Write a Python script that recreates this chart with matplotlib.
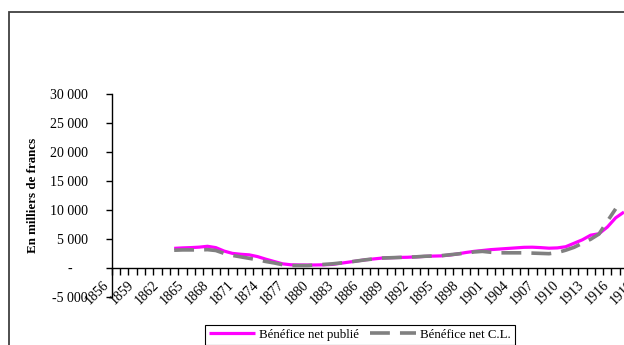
import matplotlib
matplotlib.use("Agg")
import matplotlib.pyplot as plt
from matplotlib.patches import Rectangle
from matplotlib.transforms import ScaledTranslation
import numpy as np

plt.rcParams['font.family'] = ['Liberation Serif', 'DejaVu Serif']

# ---- data ----
first_year = 1856
last_year = 1919
years_publie = list(range(1863, 1918))
benefice_publie = [3320, 3400, 3450, 3530, 3680, 3450, 2850, 2450, 2300, 2200,
                   1900, 1450, 1050, 650, 480, 450, 440, 450, 480, 550,
                   750, 950, 1150, 1350, 1500, 1650, 1700, 1750, 1780, 1850,
                   1920, 1980, 2020, 2150, 2350, 2600, 2800, 2950, 3100, 3200,
                   3300, 3400, 3500, 3520, 3450, 3350, 3400, 3600, 4200, 4800,
                   5600, 5850, 7000, 8600, 9600]
years_cl = list(range(1863, 1917))
benefice_cl = [3000, 3050, 3050, 3050, 3100, 2950, 2450, 2100, 1850, 1600,
               1350, 1050, 800, 500, 350, 350, 350, 450, 550, 650,
               800, 950, 1150, 1350, 1500, 1650, 1700, 1750, 1800, 1850,
               1950, 2000, 2050, 2200, 2350, 2500, 2700, 2800, 2650, 2550,
               2550, 2550, 2550, 2500, 2450, 2400, 2600, 3000, 3500, 4200,
               4900, 5800, 8000, 10150]
tick_label_years = list(range(1856, 1920, 3))
y_ticks = [-5000, 0, 5000, 10000, 15000, 20000, 25000, 30000]
y_tick_labels = ["-5 000", "-", "5 000", "10 000", "15 000", "20 000", "25 000", "30 000"]
label_publie = "Bénéfice net publié"
label_cl = "Bénéfice net C.L."
y_title = "En milliers de francs"

W, H = 624, 345
fig = plt.figure(figsize=(W / 100, H / 100), dpi=100)
fig.patch.set_facecolor('white')

px_per_year = 8.33
n_cat = last_year - first_year + 1
ax_left = 111.7 / W
ax_bottom = (H - 296.5) / H
ax_top = (H - 94) / H
ax_width = n_cat * px_per_year / W
ax = fig.add_axes([ax_left, ax_bottom, ax_width, ax_top - ax_bottom])
ax.set_facecolor('none')

xp = [y - first_year for y in years_publie]
xc = [y - first_year for y in years_cl]
l1, = ax.plot(xp, benefice_publie, color='#FF00FF', lw=2.3, zorder=2,
              solid_capstyle='butt')
l2, = ax.plot(xc, benefice_cl, color='#808080', lw=2.6, zorder=3,
              dashes=(5.5, 2.8), dash_capstyle='butt')

for s in ['top', 'right']:
    ax.spines[s].set_visible(False)
ax.spines['bottom'].set_position(('data', 0))
ax.spines['left'].set_linewidth(1.0)
ax.spines['bottom'].set_linewidth(1.0)

# y axis
ax.set_yticks(y_ticks)
ax.set_yticklabels(y_tick_labels)
ax.tick_params(axis='y', direction='out', length=4, width=1, pad=13.2,
               labelsize=10)
dash_off = ScaledTranslation(-16 / 100, 0, fig.dpi_scale_trans)
for lab in ax.yaxis.get_majorticklabels():
    if lab.get_text() == "-":
        lab.set_transform(lab.get_transform() + dash_off)

# x axis
ax.set_xticks(np.arange(-0.5, n_cat, 1), minor=True)
ax.set_xticks([y - first_year for y in tick_label_years])
ax.set_xticklabels([str(y) for y in tick_label_years], rotation=45,
                   ha='right', va='center', rotation_mode='anchor')
ax.tick_params(axis='x', which='minor', direction='out', length=5, width=1)
ax.tick_params(axis='x', which='major', length=0, pad=0, labelsize=10)
xoff = ScaledTranslation(-9 / 100, -15 / 100, fig.dpi_scale_trans)
for lab in ax.xaxis.get_majorticklabels():
    lab.set_transform(lab.get_transform() + xoff)

ax.set_xlim(-0.5, n_cat - 0.5)
ax.set_ylim(-5000, 30000)

# y title
fig.text(33 / W, 1 - 195 / H, y_title, rotation=90, ha='center', va='center',
         fontsize=9.4, fontweight='bold')

# outer chart frame (cropped)
fig.patches.append(Rectangle((9 / W, -0.2), 1.5, (H - 12) / H + 0.2,
                             transform=fig.transFigure, fill=False,
                             edgecolor='#404040', lw=1.3, zorder=0))

leg = fig.legend([l1, l2], [label_publie, label_cl], loc='upper left',
                 bbox_to_anchor=(205 / W, 1 - 325 / H), ncol=2, fontsize=9.3,
                 frameon=True, fancybox=False, framealpha=1,
                 edgecolor='black', handlelength=3.6, handletextpad=0.3,
                 columnspacing=0.8, borderpad=0.3, borderaxespad=0)
leg.get_frame().set_linewidth(0.8)

fig.savefig('out.png', dpi=100, facecolor='white')
